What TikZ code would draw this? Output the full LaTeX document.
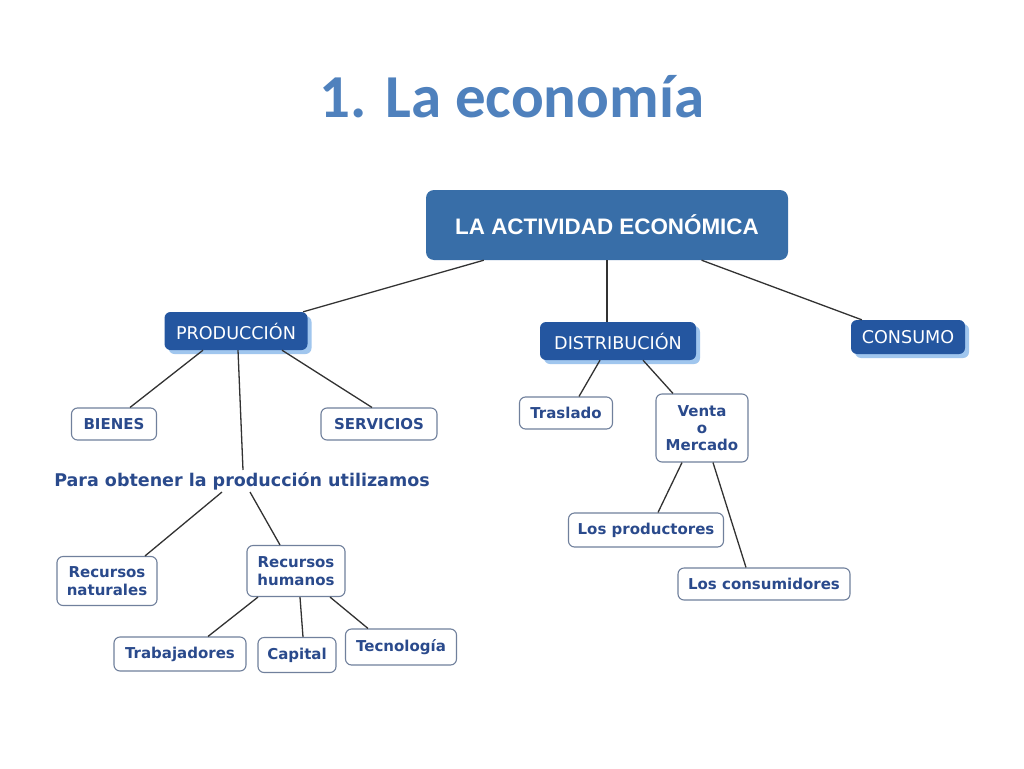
\documentclass[tikz,border=0pt]{standalone}
\usepackage{fontspec}
\usetikzlibrary{shadows}
\newfontfamily\verd{DejaVu Sans}
\newfontfamily\arialf{Liberation Sans}
\newfontfamily\calib{Carlito}
\definecolor{titleblue}{RGB}{79,129,189}
\definecolor{topfill}{RGB}{56,110,168}
\definecolor{boxfill}{RGB}{36,86,160}
\definecolor{shadowblue}{RGB}{160,198,238}
\definecolor{textblue}{RGB}{42,74,140}
\definecolor{boxline}{RGB}{112,128,156}
\definecolor{linkgray}{RGB}{50,50,50}
\tikzset{
  bluebox/.style={rounded corners=6pt, fill=boxfill, text=white, inner sep=2pt,
    font=\verd\fontsize{17.6}{20}\selectfont,
    drop shadow={shadow xshift=4pt, shadow yshift=-4pt, fill=shadowblue, opacity=1}},
  whitebox/.style={rounded corners=6pt, draw=boxline, line width=1.1pt, fill=white,
    text=textblue, inner sep=2pt, align=center,
    font=\verd\bfseries\fontsize{15}{18}\selectfont},
  link/.style={-, draw=linkgray, line width=1.3pt}
}
\begin{document}
\begin{tikzpicture}[x=1pt, y=-1pt]
	\fill[white] (0,0) rectangle (1024,768);
	\useasboundingbox (0,0) rectangle (1024,768);

	\node[text=titleblue, font=\calib\bfseries\fontsize{61}{70}\selectfont] (title) at (512,97) {1. La economía};

	\node[rounded corners=8pt, fill=topfill, text=white, minimum width=362pt, minimum height=70pt,
	      font=\arialf\bfseries\fontsize{22.4}{26}\selectfont] (top) at (607,225) {LA ACTIVIDAD ECONÓMICA};

	\node[bluebox, minimum width=143pt, minimum height=38pt] (prod)    at (236,331) {PRODUCCIÓN};
	\node[bluebox, minimum width=156pt, minimum height=38pt] (distr)   at (618,341) {DISTRIBUCIÓN};
	\node[bluebox, minimum width=114pt, minimum height=34pt] (consumo) at (908,337) {CONSUMO};

	\node[whitebox, minimum width=85pt,  minimum height=32pt] (bienes)    at (114,424) {BIENES};
	\node[whitebox, minimum width=116pt, minimum height=32pt] (servicios) at (379,424) {SERVICIOS};
	\node[text=textblue, inner sep=2pt, font=\verd\bfseries\fontsize{17.5}{20}\selectfont] (para) at (242,481) {Para obtener la producción utilizamos};

	\node[whitebox, minimum width=100pt, minimum height=49pt] (rnat)    at (107,581) {Recursos\\naturales};
	\node[whitebox, minimum width=98pt,  minimum height=51pt] (rhum)    at (296,571) {Recursos\\humanos};
	\node[whitebox, minimum width=132pt, minimum height=34pt] (trab)    at (180,654) {Trabajadores};
	\node[whitebox, minimum width=78pt,  minimum height=35pt] (capital) at (297,655) {Capital};
	\node[whitebox, minimum width=111pt, minimum height=36pt] (tecno)   at (401,647) {Tecnología};

	\node[whitebox, minimum width=93pt,  minimum height=32pt] (traslado) at (566,413) {Traslado};
	\node[whitebox, minimum width=92pt,  minimum height=68pt] (venta)    at (702,428) {Venta\\[-1pt]o\\[-1pt]Mercado};
	\node[whitebox, minimum width=155pt, minimum height=34pt] (product)  at (646,530) {Los productores};
	\node[whitebox, minimum width=172pt, minimum height=32pt] (consum)   at (764,584) {Los consumidores};

	\path [link] (top) edge (prod);
	\path [link] (top.south) edge (top.south |- distr.north);
	\path [link] (top) edge (consumo);
	\path [link] ([xshift=-33pt]prod.south) edge ([xshift=16pt]bienes.north);
	\path [link] ([xshift=46pt]prod.south)  edge ([xshift=-7pt]servicios.north);
	\path [link] ([xshift=2pt]prod.south)   edge ([xshift=1pt]para.north);
	\path [link] ([xshift=-20pt]para.south) edge ([xshift=38pt]rnat.north);
	\path [link] ([xshift=8pt]para.south)   edge ([xshift=-16pt]rhum.north);
	\path [link] ([xshift=-38pt]rhum.south) edge ([xshift=28pt]trab.north);
	\path [link] ([xshift=4pt]rhum.south)   edge ([xshift=6pt]capital.north);
	\path [link] ([xshift=34pt]rhum.south)  edge ([xshift=-33pt]tecno.north);
	\path [link] ([xshift=-18pt]distr.south) edge ([xshift=13pt]traslado.north);
	\path [link] ([xshift=25pt]distr.south)  edge ([xshift=-29pt]venta.north);
	\path [link] ([xshift=-20pt]venta.south) edge ([xshift=12pt]product.north);
	\path [link] ([xshift=11pt]venta.south)  edge ([xshift=-18pt]consum.north);
\end{tikzpicture}
\end{document}
